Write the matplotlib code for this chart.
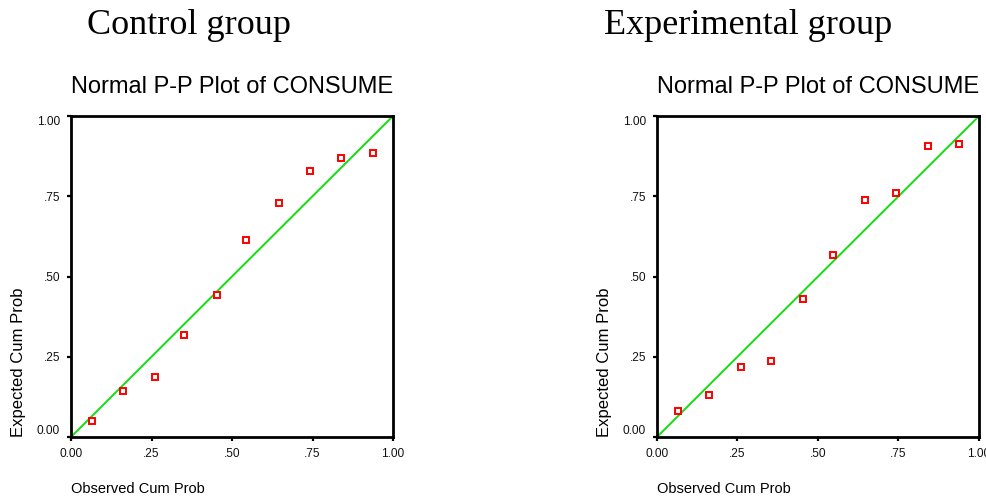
import matplotlib
matplotlib.use("Agg")
import matplotlib.pyplot as plt

# ---- data ----
group_titles = ["Control group", "Experimental group"]
plot_title = "Normal P-P Plot of CONSUME"
x_label = "Observed Cum Prob"
y_label = "Expected Cum Prob"
tick_values = [0.0, 0.25, 0.5, 0.75, 1.0]
tick_labels = ["0.00", ".25", ".50", ".75", "1.00"]

control_observed = [0.065, 0.16, 0.26, 0.352, 0.452, 0.545, 0.645, 0.742, 0.84, 0.937]
control_expected = [0.050, 0.143, 0.187, 0.318, 0.443, 0.613, 0.730, 0.830, 0.869, 0.886]

exp_observed = [0.065, 0.16, 0.26, 0.353, 0.452, 0.546, 0.645, 0.742, 0.842, 0.937]
exp_expected = [0.081, 0.131, 0.218, 0.237, 0.430, 0.568, 0.738, 0.761, 0.906, 0.913]

W, H = 987, 498
fig = plt.figure(figsize=(W / 100, H / 100), dpi=100)

panels = [
    (71, group_titles[0], control_observed, control_expected, 189),
    (657, group_titles[1], exp_observed, exp_expected, 748),
]
ax_top, ax_bot = 116, 437
ax_w = 322

for left, gtitle, xs, ys, gcenter in panels:
    ax = fig.add_axes([left / W, (H - ax_bot) / H, ax_w / W, (ax_bot - ax_top) / H])
    ax.set_xlim(0, 1)
    ax.set_ylim(0, 1)
    ax.plot([0, 1], [0, 1], color="#11dd11", lw=1.4, zorder=2)
    ax.plot(xs, ys, linestyle="none", marker="s", markersize=4.8,
            markerfacecolor="white", markeredgecolor="#ff0000",
            markeredgewidth=1.4, zorder=3, clip_on=False)
    for sp in ax.spines.values():
        sp.set_linewidth(2.0)
        sp.set_color("black")
    ax.set_xticks(tick_values)
    ax.set_xticklabels(tick_labels)
    ax.set_yticks(tick_values)
    ax.set_yticklabels(tick_labels)
    ax.tick_params(direction="out", length=3, width=1.6, colors="black",
                   labelsize=8.6, pad=5)
    ax.tick_params(axis="x", pad=5)
    for lab in ax.get_xticklabels() + ax.get_yticklabels():
        lab.set_fontfamily("Liberation Sans")
        lab.set_color("#111111")
    ylabs = ax.get_yticklabels()
    ylabs[0].set_verticalalignment("bottom")
    ylabs[-1].set_verticalalignment("top")

    # panel title (left aligned at axes left)
    fig.text(left / W, 1 - 87 / H, plot_title, ha="left", va="center",
             fontsize=17, family="Liberation Sans")
    # group title (serif)
    fig.text(gcenter / W, 1 - 25 / H, gtitle, ha="center", va="center",
             fontsize=26, family="Liberation Serif")
    # x label
    fig.text(left / W, 1 - 489 / H, x_label, ha="left", va="center",
             fontsize=10.5, family="Liberation Sans")
    # y label
    fig.text((left - 52) / W, (H - ax_bot) / H, y_label, ha="center", va="bottom",
             rotation=90, fontsize=12, family="Liberation Sans")

fig.savefig("out.png", dpi=100, facecolor="white")
